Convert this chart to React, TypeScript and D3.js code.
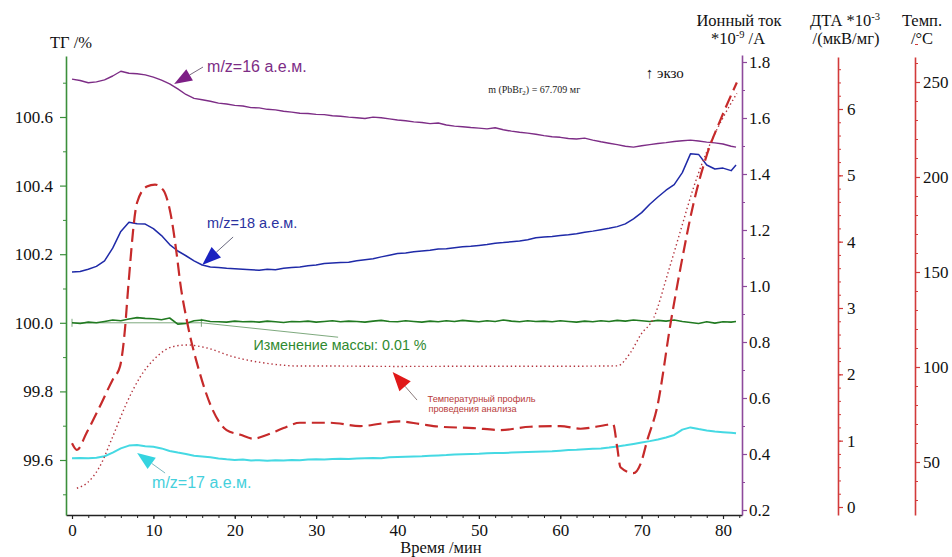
import React, { useEffect, useRef } from "react";
import * as d3 from "d3";

// time grid (min) shared by the mass-spec and TG traces
const minutes = [
  0, 1, 2, 3, 4, 5, 6, 7, 8, 9, 10, 11, 12, 13, 14, 15, 16, 17, 18, 19,
  20, 21, 22, 23, 24, 25, 26, 27, 28, 29, 30, 31, 32, 33, 34, 35, 36, 37, 38, 39,
  40, 41, 42, 43, 44, 45, 46, 47, 48, 49, 50, 51, 52, 53, 54, 55, 56, 57, 58, 59,
  60, 61, 62, 63, 64, 65, 66, 67, 68, 69, 70, 71, 72, 73, 74, 75, 76, 77, 78, 79,
  80, 81, 81.6,
];

// ion current *10^-9 A
const ion16 = [
  1.739, 1.734, 1.726, 1.729, 1.736, 1.75, 1.767, 1.76, 1.758, 1.754,
  1.746, 1.735, 1.722, 1.704, 1.684, 1.67, 1.665, 1.66, 1.653, 1.65,
  1.645, 1.643, 1.637, 1.636, 1.631, 1.629, 1.624, 1.621, 1.617, 1.616,
  1.613, 1.612, 1.608, 1.606, 1.603, 1.601, 1.598, 1.603, 1.601, 1.597,
  1.593, 1.59, 1.586, 1.584, 1.58, 1.582, 1.575, 1.571, 1.569, 1.566,
  1.564, 1.561, 1.565, 1.558, 1.553, 1.549, 1.546, 1.542, 1.537, 1.533,
  1.531, 1.527, 1.525, 1.528, 1.521, 1.515, 1.51, 1.505, 1.499, 1.496,
  1.501, 1.505, 1.509, 1.512, 1.516, 1.519, 1.521, 1.518, 1.514, 1.511,
  1.507, 1.499, 1.496,
];
const ion18 = [
  1.05, 1.052, 1.06, 1.07, 1.09, 1.135, 1.195, 1.228, 1.222, 1.221,
  1.205, 1.18, 1.148, 1.125, 1.108, 1.09, 1.075, 1.068, 1.066, 1.063,
  1.062, 1.06, 1.058, 1.056, 1.06, 1.058, 1.063, 1.066, 1.068, 1.072,
  1.075, 1.08, 1.082, 1.084, 1.085, 1.09, 1.094, 1.097, 1.104, 1.11,
  1.116, 1.118, 1.122, 1.125, 1.128, 1.132, 1.133, 1.137, 1.14, 1.142,
  1.145, 1.148, 1.153, 1.155, 1.158, 1.161, 1.165, 1.172, 1.175, 1.177,
  1.18, 1.183, 1.187, 1.192, 1.196, 1.201, 1.206, 1.212, 1.222, 1.24,
  1.262, 1.292, 1.318, 1.342, 1.362, 1.405, 1.472, 1.47, 1.432, 1.418,
  1.421, 1.412, 1.432,
];
const ion17 = [
  0.385, 0.386, 0.385, 0.387, 0.392, 0.405, 0.42, 0.43, 0.432, 0.428,
  0.426, 0.42, 0.411, 0.405, 0.4, 0.394, 0.391, 0.388, 0.384, 0.381,
  0.379, 0.38, 0.377, 0.378, 0.376, 0.378, 0.377, 0.379, 0.378, 0.38,
  0.381, 0.38, 0.382, 0.383, 0.382, 0.384, 0.385, 0.386, 0.385, 0.388,
  0.389, 0.39, 0.391, 0.392, 0.394, 0.395, 0.396, 0.398, 0.399, 0.4,
  0.401, 0.403, 0.404, 0.404, 0.405, 0.406, 0.407, 0.408, 0.409, 0.41,
  0.412, 0.414, 0.415, 0.417, 0.419, 0.42, 0.423, 0.427, 0.431, 0.436,
  0.441, 0.446, 0.452, 0.459, 0.468, 0.487, 0.495, 0.489, 0.484, 0.48,
  0.478, 0.476, 0.474,
];

// TG, %
const tgMass = [
  100.0, 99.998, 100.002, 100.0, 100.004, 100.008, 100.006, 100.011, 100.015, 100.013,
  100.012, 100.009, 100.014, 99.996, 99.998, 100.006, 100.008, 100.004, 100.003, 100.002,
  100.005, 100.003, 100.004, 100.002, 100.005, 100.003, 100.001, 100.004, 100.003, 100.005,
  100.002, 100.004, 100.006, 100.003, 100.005, 100.004, 100.002, 100.005, 100.007, 100.004,
  100.003, 100.006, 100.004, 100.002, 100.005, 100.003, 100.006, 100.004, 100.007, 100.005,
  100.003, 100.006, 100.004, 100.008, 100.005, 100.003, 100.006, 100.004, 100.005, 100.003,
  100.006, 100.004, 100.002, 100.005, 100.003, 100.006, 100.004, 100.007, 100.005, 100.008,
  100.006, 100.004, 100.007, 100.005, 100.008, 100.004, 100.001, 99.998, 100.003, 99.999,
  100.003, 100.002, 100.004,
];

// DTA *10^-3 uV/mg
const dtaMinutes = [
  0, 0.6, 1.8, 3.4, 5.0, 5.9, 6.5, 6.9, 8.0, 9.2, 10.2, 11.2, 12.1, 12.9, 13.3, 14.1,
  15.7, 17.3, 19.0, 20.7, 22.3, 24.0, 26.0, 28.0, 31.7, 35.4, 40.3, 42.8, 45.3, 49.3,
  52.6, 56.3, 60.0, 62.5, 65.8, 66.5, 67.0, 67.4, 69.0, 69.9, 70.7, 71.9, 73.6, 74.8,
  76.4, 78.1, 79.7, 81.7,
];
const dtaValues = [
  0.96, 0.86, 1.12, 1.51, 1.92, 2.12, 2.67, 3.3, 4.59, 4.83, 4.86, 4.78, 4.43, 3.78, 3.38, 2.82,
  2.02, 1.46, 1.16, 1.09, 1.03, 1.09, 1.19, 1.27, 1.27, 1.22, 1.29, 1.25, 1.21, 1.19,
  1.16, 1.21, 1.22, 1.18, 1.24, 1.25, 0.9, 0.6, 0.51, 0.66, 1.01, 1.5, 2.8, 3.62,
  4.59, 5.34, 5.84, 6.4,
];

// temperature profile, °C
const tempMinutes = [
  0.6, 1.8, 3.4, 5.0, 6.7, 8.4, 10.0, 12.4, 14.1, 16.6, 19.8, 24.0, 28.0, 31.7,
  40, 50, 60, 67.0, 68.6, 69.9, 71.5, 73.2, 74.8, 76.4, 77.6, 78.8, 80.1, 81.7,
];
const tempValues = [
  36.2, 38.8, 47.5, 63.3, 80.9, 94.9, 103.7, 110.7, 111.6, 110.0, 105.4, 101.9, 100.5, 100.5,
  100.3, 100.4, 100.4, 100.6, 107.4, 117.0, 126.0, 149.0, 172.0, 194.7, 209.0, 221.0, 232.0, 244.0,
];

const timeTicks = [0, 10, 20, 30, 40, 50, 60, 70, 80];
const tgTicks = [99.6, 99.8, 100.0, 100.2, 100.4, 100.6];
const ionTicks = [0.2, 0.4, 0.6, 0.8, 1.0, 1.2, 1.4, 1.6, 1.8];
const dtaTicks = [0, 1, 2, 3, 4, 5, 6];
const tempTicks = [50, 100, 150, 200, 250];

const W = 952;
const H = 557;

const serif = "'Liberation Serif', 'Times New Roman', serif";
const sans = "'Liberation Sans', Arial, sans-serif";

export default function App() {
  const ref = useRef<SVGSVGElement>(null);

  useEffect(() => {
    const svg = d3.select(ref.current);
    svg.selectAll("*").remove();

    // plot frame
    const top = 56;
    const bottom = 515;
    const left = 66;
    const right = 742;

    const x = d3.scaleLinear().domain([0, 80]).range([72, 723]);
    const yTG = d3.scaleLinear().domain([99.6, 100.6]).range([460, 117]);
    const yIon = d3.scaleLinear().domain([0.2, 1.8]).range([510, 62]);
    const yDta = d3.scaleLinear().domain([0, 6]).range([507, 109]);
    const yTemp = d3.scaleLinear().domain([50, 250]).range([462, 82]);

    // same mapping, stretched to the full length of the drawn axis line
    const stretch = (s: d3.ScaleLinear<number, number>, a: number, b: number) =>
      s.copy().domain([s.invert(a), s.invert(b)]).range([a, b]);

    const styleAxis = (g: any, color: string) => {
      g.attr("font-family", serif).attr("font-size", 17);
      g.select(".domain").attr("stroke", color).attr("stroke-width", 1.6);
      g.selectAll(".tick line").attr("stroke", color).attr("stroke-width", 1.2);
      g.selectAll(".tick text").attr("fill", "#111");
    };

    const minorAxis = (axis: any, values: number[], size: number, color: string, tr: string) => {
      const g = svg.append("g").attr("transform", tr).call(axis.tickValues(values).tickSize(size).tickFormat(() => ""));
      g.select(".domain").remove();
      g.selectAll(".tick line").attr("stroke", color).attr("stroke-width", 1);
    };

    // ---- x axis
    const xs = stretch(x, left, right);
    minorAxis(d3.axisBottom(xs), d3.range(0, 83, 2), 3, "#222", `translate(0,${bottom})`);
    const gx = svg
      .append("g")
      .attr("transform", `translate(0,${bottom})`)
      .call(d3.axisBottom(xs).tickValues(timeTicks).tickSize(4).tickSizeOuter(0).tickPadding(5));
    styleAxis(gx, "#222");

    // ---- TG axis (left)
    const tgColor = "#3b8f3b";
    const ts = stretch(yTG, bottom, top);
    minorAxis(d3.axisLeft(ts), d3.range(99.5, 100.75, 0.2), 3, tgColor, `translate(${left},0)`);
    const gtg = svg
      .append("g")
      .attr("transform", `translate(${left},0)`)
      .call(d3.axisLeft(ts).tickValues(tgTicks).tickSize(6).tickSizeOuter(0).tickPadding(7).tickFormat(d3.format(".1f")));
    styleAxis(gtg, tgColor);

    // ---- ion current axis
    const ionColor = "#8e4a9c";
    const is = stretch(yIon, bottom, top - 1);
    minorAxis(d3.axisRight(is), d3.range(0.3, 1.75, 0.2), 3, ionColor, `translate(${right},0)`);
    const gion = svg
      .append("g")
      .attr("transform", `translate(${right},0)`)
      .call(d3.axisRight(is).tickValues(ionTicks).tickSize(5).tickSizeOuter(0).tickPadding(2).tickFormat(d3.format(".1f")));
    styleAxis(gion, ionColor);

    // ---- DTA axis
    const redAxis = "#d23a3a";
    const dtaX = 838;
    const ds = stretch(yDta, bottom, top + 1);
    minorAxis(d3.axisRight(ds), d3.range(0.2, 6.7, 0.2), 3, redAxis, `translate(${dtaX},0)`);
    const gdta = svg
      .append("g")
      .attr("transform", `translate(${dtaX},0)`)
      .call(d3.axisRight(ds).tickValues(dtaTicks).tickSize(5).tickSizeOuter(0).tickPadding(4).tickFormat(d3.format("d")));
    styleAxis(gdta, redAxis);

    // ---- temperature axis
    const tempX = 915;
    const tms = stretch(yTemp, bottom, top + 1);
    minorAxis(d3.axisRight(tms), d3.range(30, 280, 10), 3, redAxis, `translate(${tempX},0)`);
    const gtemp = svg
      .append("g")
      .attr("transform", `translate(${tempX},0)`)
      .call(d3.axisRight(tms).tickValues(tempTicks).tickSize(5).tickSizeOuter(0).tickPadding(3).tickFormat(d3.format("d")));
    styleAxis(gtemp, redAxis);

    // ---- axis titles
    const title = (tx: number, ty: number, parts: [string, boolean][], anchor = "middle") => {
      const t = svg
        .append("text")
        .attr("x", tx)
        .attr("y", ty)
        .attr("text-anchor", anchor)
        .attr("font-family", serif)
        .attr("font-size", 16.5)
        .attr("fill", "#111");
      let up = false;
      parts.forEach(([s, sup]) => {
        const sp = t.append("tspan").text(s);
        if (sup && !up) {
          sp.attr("dy", -6).attr("font-size", 10.5);
          up = true;
        } else if (!sup && up) {
          sp.attr("dy", 6);
          up = false;
        }
      });
    };
    title(50, 48, [["ТГ /%", false]], "start");
    title(739, 26, [["Ионный ток", false]]);
    title(738, 44, [["*10", false], ["-9", true], [" /А", false]]);
    title(845, 26, [["ДТА *10", false], ["-3", true]]);
    title(846, 44, [["/(мкВ/мг)", false]]);
    title(922, 26, [["Темп.", false]]);
    title(922, 44, [["/°C", false]]);
    svg
      .append("text")
      .attr("x", 441)
      .attr("y", 553)
      .attr("text-anchor", "middle")
      .attr("font-family", serif)
      .attr("font-size", 16.5)
      .attr("fill", "#111")
      .text("Время /мин");

    // ---- data lines
    const lineOf = (ys: d3.ScaleLinear<number, number>, curve: d3.CurveFactory = d3.curveLinear) =>
      d3
        .line<[number, number]>()
        .x((d) => x(d[0]))
        .y((d) => ys(d[1]))
        .curve(curve);

    const plot = (data: [number, number][], ys: any, color: string, width: number, dash?: string, curve?: d3.CurveFactory) => {
      svg
        .append("path")
        .datum(data)
        .attr("d", lineOf(ys, curve) as any)
        .attr("fill", "none")
        .attr("stroke", color)
        .attr("stroke-width", width)
        .attr("stroke-linejoin", "round")
        .attr("stroke-dasharray", dash || null);
    };

    // reference line for mass change
    const tgRef = svg.append("g").attr("stroke", "#6f9f6f").attr("stroke-width", 0.9);
    tgRef.append("line").attr("x1", x(0)).attr("x2", x(15.9)).attr("y1", yTG(100)).attr("y2", yTG(100));
    [0, 15.9].forEach((t) =>
      tgRef.append("line").attr("x1", x(t)).attr("x2", x(t)).attr("y1", yTG(100) - 4).attr("y2", yTG(100) + 4)
    );
    tgRef.append("line").attr("x1", x(15.9)).attr("y1", yTG(100)).attr("x2", x(32.7)).attr("y2", yTG(99.958));

    plot(d3.zip(minutes, ion16) as any, yIon, "#7d2d86", 1.4);
    plot(d3.zip(minutes, ion18) as any, yIon, "#1f2aa8", 1.5);
    plot(d3.zip(minutes, tgMass) as any, yTG, "#217a21", 1.6);
    plot(d3.zip(minutes, ion17) as any, yIon, "#45d9e3", 2);
    plot(d3.zip(tempMinutes, tempValues) as any, yTemp, "#b3333d", 1.4, "1.4 2.8", d3.curveMonotoneX);
    plot(d3.zip(dtaMinutes, dtaValues) as any, yDta, "#c62a2a", 2.2, "13 6", d3.curveMonotoneX);

    // ---- annotations (arrows anchored in data coordinates)
    const arrow = (tip: [number, number], tail: [number, number], color: string, len: number, wid: number, lineColor: string) => {
      const dx = tip[0] - tail[0];
      const dy = tip[1] - tail[1];
      const n = Math.hypot(dx, dy);
      const ux = dx / n;
      const uy = dy / n;
      const bx = tip[0] - ux * len;
      const by = tip[1] - uy * len;
      svg
        .append("line")
        .attr("x1", tail[0])
        .attr("y1", tail[1])
        .attr("x2", bx)
        .attr("y2", by)
        .attr("stroke", lineColor)
        .attr("stroke-width", 1);
      svg
        .append("path")
        .attr(
          "d",
          `M${tip[0]},${tip[1]}L${bx - (uy * wid) / 2},${by + (ux * wid) / 2}L${bx + (uy * wid) / 2},${by - (ux * wid) / 2}Z`
        )
        .attr("fill", color);
    };
    const label = (tx: number, ty: number, s: string, color: string, size: number, font = sans) =>
      svg
        .append("text")
        .attr("x", tx)
        .attr("y", ty)
        .attr("font-family", font)
        .attr("font-size", size)
        .attr("fill", color)
        .text(s);

    arrow([x(12.55), yIon(1.721)], [x(16.1), yIon(1.782)], "#7d1f86", 18, 13, "#7a6a7f");
    label(x(16.6), yIon(1.764), "m/z=16 а.е.м.", "#7d2d86", 16);

    arrow([x(16.0), yIon(1.075)], [x(19.8), yIon(1.175)], "#1a22c0", 19, 14, "#6a6a80");
    label(x(16.6), yIon(1.207), "m/z=18 а.е.м.", "#2a32a0", 14.5);

    arrow([x(8.0), yIon(0.404)], [x(11.44), yIon(0.332)], "#35d4e0", 18, 14, "#7ab8c0");
    label(x(9.84), yIon(0.279), "m/z=17 а.е.м.", "#45d0dc", 16);

    arrow([x(39.4), yTemp(97.4)], [x(42.4), yTemp(82.6)], "#e01818", 19, 15, "#8a7a7a");
    label(x(43.7), yTemp(81.6), "Температурный профиль", "#b83a3a", 9.2);
    label(x(43.8), yTemp(76.3), "проведения анализа", "#b83a3a", 9.2);

    label(x(22.3), yTG(99.921), "Изменение массы: 0.01 %", "#2f8a2f", 14.3);

    const pb = svg
      .append("text")
      .attr("x", x(56.8))
      .attr("y", yIon(1.689))
      .attr("text-anchor", "middle")
      .attr("font-family", serif)
      .attr("font-size", 10)
      .attr("fill", "#222");
    pb.append("tspan").text("m (PbBr");
    pb.append("tspan").attr("font-size", 7).attr("dy", 2).text("2");
    pb.append("tspan").attr("dy", -2).text(") = 67.709 мг");

    label(x(70.5), yIon(1.743), "↑ экзо", "#111", 15, serif);
  }, []);

  return (
    <svg
      ref={ref}
      width={W}
      height={H}
      style={{ position: "fixed", left: 0, top: 0, background: "#fff" }}
    />
  );
}
